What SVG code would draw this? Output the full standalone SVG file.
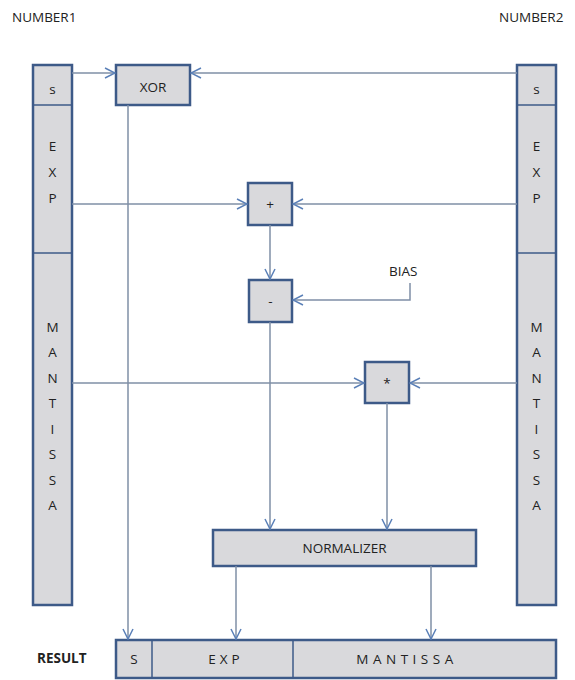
<svg xmlns="http://www.w3.org/2000/svg" width="575" height="680" viewBox="0 0 575 680">
<style>
.box{fill:#d9d9dc;stroke:#3d5a88;stroke-width:2.5}
.div{stroke:#3d5a88;stroke-width:1.5}
.t{font-family:"Open Sans","Liberation Sans",sans-serif;font-size:13.5px;fill:#222;text-anchor:middle}
.lbl{font-family:"Open Sans","Liberation Sans",sans-serif;font-size:13.5px;fill:#222}
.c{fill:none;stroke:#7f8fa6;stroke-width:1.5}
</style>
<defs>
<marker id="a" viewBox="0 0 12 12" refX="11" refY="6" markerWidth="12" markerHeight="12" markerUnits="userSpaceOnUse" orient="auto">
<path d="M1,1 L11,6 L1,11" fill="none" stroke="#5b80b8" stroke-width="1.5"/>
</marker>
</defs>
<rect width="575" height="680" fill="#fff"/>
<text class="lbl" x="12" y="22">NUMBER1</text>
<text class="lbl" x="499" y="22">NUMBER2</text>
<text class="lbl" x="37" y="663" style="font-weight:bold">RESULT</text>

<g id="number1">
<rect class="box" x="33" y="65" width="39" height="540"/>
<line class="div" x1="33" y1="105" x2="72" y2="105"/>
<line class="div" x1="33" y1="253" x2="72" y2="253"/>
<text class="t" x="52.5" y="94">s</text>
<text class="t" x="52.5" y="151">E</text>
<text class="t" x="52.5" y="177">X</text>
<text class="t" x="52.5" y="203">P</text>
<text class="t" x="52.5" y="332">M</text>
<text class="t" x="52.5" y="357">A</text>
<text class="t" x="52.5" y="383">N</text>
<text class="t" x="52.5" y="408">T</text>
<text class="t" x="52.5" y="434">I</text>
<text class="t" x="52.5" y="459">S</text>
<text class="t" x="52.5" y="485">S</text>
<text class="t" x="52.5" y="510">A</text>
</g>
<g id="number2">
<rect class="box" x="517" y="65" width="39" height="540"/>
<line class="div" x1="517" y1="105" x2="556" y2="105"/>
<line class="div" x1="517" y1="253" x2="556" y2="253"/>
<text class="t" x="536.5" y="94">s</text>
<text class="t" x="536.5" y="151">E</text>
<text class="t" x="536.5" y="177">X</text>
<text class="t" x="536.5" y="203">P</text>
<text class="t" x="536.5" y="332">M</text>
<text class="t" x="536.5" y="357">A</text>
<text class="t" x="536.5" y="383">N</text>
<text class="t" x="536.5" y="408">T</text>
<text class="t" x="536.5" y="434">I</text>
<text class="t" x="536.5" y="459">S</text>
<text class="t" x="536.5" y="485">S</text>
<text class="t" x="536.5" y="510">A</text>
</g>
<g id="xor">
<rect class="box" x="116" y="65" width="74" height="40"/>
<text class="t" x="153" y="92">XOR</text>
</g>
<g id="add">
<rect class="box" x="248" y="183" width="44" height="42"/>
<text class="t" x="270" y="209">+</text>
</g>
<g id="sub">
<rect class="box" x="249" y="280" width="43" height="42"/>
<text class="t" x="270.5" y="306">-</text>
</g>
<g id="mul">
<rect class="box" x="365" y="362" width="44" height="41"/>
<text class="t" x="387" y="388">*</text>
</g>
<g id="normalizer">
<rect class="box" x="213" y="530" width="263" height="36"/>
<text class="t" x="344.5" y="553">NORMALIZER</text>
</g>
<g id="result">
<rect class="box" x="116" y="640" width="440" height="38"/>
<line class="div" x1="152" y1="640" x2="152" y2="678"/>
<line class="div" x1="293" y1="640" x2="293" y2="678"/>
<text class="t" x="134" y="664">S</text>
<text class="t" x="226" y="664" style="letter-spacing:4px">EXP</text>
<text class="t" x="407" y="664" style="letter-spacing:4.5px">MANTISSA</text>
</g>
<g id="bias">
<text class="lbl" x="389" y="276">BIAS</text>
</g>
<g id="connectors">
<line class="c" x1="72" y1="73" x2="115" y2="73" marker-end="url(#a)"/>
<line class="c" x1="517" y1="73" x2="191" y2="73" marker-end="url(#a)"/>
<line class="c" x1="128" y1="105" x2="128" y2="639" marker-end="url(#a)"/>
<line class="c" x1="72" y1="204" x2="247" y2="204" marker-end="url(#a)"/>
<line class="c" x1="517" y1="204" x2="293" y2="204" marker-end="url(#a)"/>
<line class="c" x1="270" y1="225" x2="270" y2="279" marker-end="url(#a)"/>
<polyline class="c" points="410,283 410,300 293,300" marker-end="url(#a)"/>
<line class="c" x1="270" y1="322" x2="270" y2="529" marker-end="url(#a)"/>
<line class="c" x1="72" y1="383" x2="364" y2="383" marker-end="url(#a)"/>
<line class="c" x1="517" y1="383" x2="410" y2="383" marker-end="url(#a)"/>
<line class="c" x1="387" y1="403" x2="387" y2="529" marker-end="url(#a)"/>
<line class="c" x1="236" y1="566" x2="236" y2="639" marker-end="url(#a)"/>
<line class="c" x1="431" y1="566" x2="431" y2="639" marker-end="url(#a)"/>
</g>
</svg>
